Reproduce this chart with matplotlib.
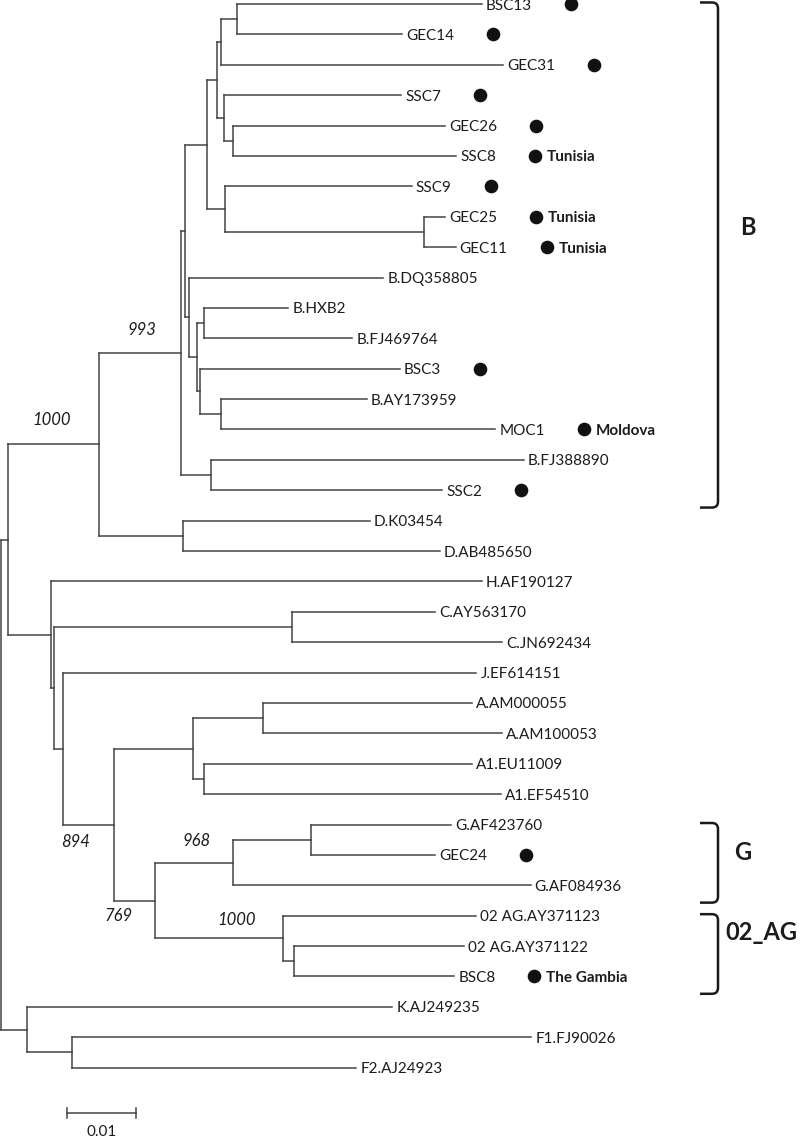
import numpy as np
import matplotlib.pyplot as plt
from matplotlib.collections import LineCollection
from matplotlib.path import Path
from matplotlib.patches import PathPatch

plt.rcParams['font.family'] = ['Lato', 'DejaVu Sans']

# ===============================================================
# tree data: node, parent, branch length (subst./site)
# children are listed from top to bottom
# ===============================================================
node_name = [
    'root', 'nX', 'nBD', 'nB', 'nB1', 'nB3', 'nB5', 'nB7', 'nB9',
    'BSC13', 'GEC14', 'GEC31', 'nB8', 'SSC7', 'nB10', 'GEC26', 'SSC8',
    'nB6', 'SSC9', 'nB11', 'GEC25', 'GEC11',
    'nB4', 'B.DQ358805', 'nB12', 'nB13', 'B.HXB2', 'B.FJ469764',
    'nB14', 'BSC3', 'nB15', 'B.AY173959', 'MOC1',
    'nB2', 'B.FJ388890', 'SSC2',
    'nD', 'D.K03454', 'D.AB485650',
    'nO', 'H.AF190127', 'nO1', 'nC', 'C.AY563170', 'C.JN692434',
    'nO2', 'J.EF614151', 'nO3', 'nA', 'nA1', 'A.AM000055', 'A.AM100053',
    'nA2', 'A1.EU11009', 'A1.EF54510',
    'nGAG', 'nG', 'nG1', 'G.AF423760', 'GEC24', 'G.AF084936',
    'nAG', '02 AG.AY371123', 'nAG1', '02 AG.AY371122', 'BSC8',
    'nKF', 'K.AJ249235', 'nF', 'F1.FJ90026', 'F2.AJ24923',
]
node_parent = [
    None, 'root', 'nX', 'nBD', 'nB', 'nB1', 'nB3', 'nB5', 'nB7',
    'nB9', 'nB9', 'nB7', 'nB5', 'nB8', 'nB8', 'nB10', 'nB10',
    'nB3', 'nB6', 'nB6', 'nB11', 'nB11',
    'nB1', 'nB4', 'nB4', 'nB12', 'nB13', 'nB13',
    'nB12', 'nB14', 'nB14', 'nB15', 'nB15',
    'nB', 'nB2', 'nB2',
    'nBD', 'nD', 'nD',
    'nX', 'nO', 'nO', 'nO1', 'nC', 'nC',
    'nO1', 'nO2', 'nO2', 'nO3', 'nA', 'nA1', 'nA1',
    'nA', 'nA2', 'nA2',
    'nO3', 'nGAG', 'nG', 'nG1', 'nG1', 'nG',
    'nGAG', 'nAG', 'nAG', 'nAG1', 'nAG1',
    'root', 'nKF', 'nKF', 'nF', 'nF',
]
branch_len = [
    0.0, 0.0010, 0.0131, 0.0118, 0.0006, 0.0032, 0.0014, 0.0006, 0.0023,
    0.0353, 0.0238, 0.0406, 0.0010, 0.0256, 0.0014, 0.0305, 0.0321,
    0.0026, 0.0269, 0.0287, 0.0030, 0.0045,
    0.0006, 0.0280, 0.0012, 0.0010, 0.0121, 0.0213,
    0.0004, 0.0288, 0.0030, 0.0210, 0.0395,
    0.0043, 0.0451, 0.0334,
    0.0121, 0.0269, 0.0370,
    0.0062, 0.0621, 0.0004, 0.0343, 0.0206, 0.0303,
    0.0014, 0.0595, 0.0073, 0.0114, 0.0101, 0.0300, 0.0344,
    0.0016, 0.0385, 0.0428,
    0.0059, 0.0112, 0.0112, 0.0203, 0.0179, 0.0429,
    0.0184, 0.0278, 0.0016, 0.0245, 0.0231,
    0.0037, 0.0527, 0.0066, 0.0661, 0.0409,
]

# study samples (dot) and origin of some of them
dot_leaves = ['BSC13', 'GEC14', 'GEC31', 'SSC7', 'GEC26', 'SSC8', 'SSC9',
              'GEC25', 'GEC11', 'BSC3', 'MOC1', 'SSC2', 'GEC24', 'BSC8']
country_leaves = ['SSC8', 'GEC25', 'GEC11', 'MOC1', 'BSC8']
country_names = ['Tunisia', 'Tunisia', 'Tunisia', 'Moldova', 'The Gambia']

# bootstrap values, written at the branch leading to the node
boot_nodes = ['nBD', 'nB', 'nO3', 'nG', 'nGAG', 'nAG']
boot_values = ['1000', '993', '894', '968', '769', '1000']
boot_dx = [-2, 2, -13, 3, -16, 18]     # px, from branch middle
boot_dy = [-24, -23, 17, -22, 15, -18]  # px, negative = above

# subtype brackets
clade_labels = ['B', 'G', '02_AG']
clade_first = ['BSC13', 'G.AF423760', '02 AG.AY371123']
clade_last = ['SSC2', 'G.AF084936', 'BSC8']
clade_label_dx = [22, 16, 7]    # px
clade_label_dy = [-28, -10, -21]  # px from bracket middle

scale_len = 0.01

# ===============================================================
# plot settings
# ===============================================================
W, H = 800, 1137
PX_X = 6940.0   # px per unit branch length
PX_Y = 30.39    # px per leaf row
X0, Y0 = 1, 4   # px position of root / first leaf
lc_tree = '#444444'
c_txt = '#1c1c1c'
fs = 11

# ===============================================================
# layout of the tree
# ===============================================================
xpos = {}
children = {n: [] for n in node_name}
for n, p, bl in zip(node_name, node_parent, branch_len):
    xpos[n] = bl if p is None else xpos[p] + bl
    if p is not None:
        children[p].append(n)

leaves = [n for n in node_name if not children[n]]
ypos = {n: i for i, n in enumerate(leaves)}
for n in reversed(node_name):
    if children[n]:
        ypos[n] = 0.5 * (ypos[children[n][0]] + ypos[children[n][-1]])

segs = []
for n, p in zip(node_name, node_parent):
    if p is not None:
        segs.append([(xpos[p], ypos[n]), (xpos[n], ypos[n])])
    if children[n]:
        segs.append([(xpos[n], ypos[children[n][0]]), (xpos[n], ypos[children[n][-1]])])

# ===============================================================
# figure
# ===============================================================
fig = plt.figure(figsize=(W / 100, H / 100), dpi=100)
ax = fig.add_axes([0, 0, 1, 1])
ax.set_xlim(-X0 / PX_X, (W - X0) / PX_X)
ax.set_ylim((H - Y0) / PX_Y, -Y0 / PX_Y)
ax.axis('off')

ax.add_collection(LineCollection(segs, colors=lc_tree, linewidths=1.1,
                                 capstyle='projecting'))

pt = 0.72  # points per px
labels = {}
for n in leaves:
    labels[n] = ax.annotate(n, (xpos[n], ypos[n]), xytext=(4 * pt, 0),
                            textcoords='offset points', ha='left',
                            va='center_baseline', fontsize=fs, color=c_txt)

# dots behind the sample names
fig.canvas.draw()
rend = fig.canvas.get_renderer()
inv = ax.transData.inverted()
for n in dot_leaves:
    bb = labels[n].get_window_extent(rend)
    xd = inv.transform((bb.x1 + 39, 0))[0]
    ax.plot(xd, ypos[n], 'o', color='#111111', markersize=8.8)
    if n in country_leaves:
        c = country_names[country_leaves.index(n)]
        ax.annotate(c, (xd, ypos[n]), xytext=(12 * pt, 0), textcoords='offset points',
                    ha='left', va='center_baseline', fontsize=fs,
                    fontweight='bold', color=c_txt)

# bootstrap values
for n, v, dx, dy in zip(boot_nodes, boot_values, boot_dx, boot_dy):
    p = node_parent[node_name.index(n)]
    xm = 0.5 * (xpos[p] + xpos[n])
    ax.annotate(v, (xm, ypos[n]), xytext=(dx * pt, -dy * pt), textcoords='offset points',
                ha='center', va='center', fontsize=12, style='italic', color=c_txt)

# brackets
xb = (718 - X0) / PX_X
hook = 18 / PX_X
rx, ry = 6 / PX_X, 6 / PX_Y
for lab, f, l, dx, dy in zip(clade_labels, clade_first, clade_last,
                             clade_label_dx, clade_label_dy):
    yt = ypos[f] - 0.05
    yb = ypos[l] + 0.57
    verts = [(xb - hook, yt), (xb - rx, yt), (xb, yt), (xb, yt + ry),
             (xb, yb - ry), (xb, yb), (xb - rx, yb), (xb - hook, yb)]
    codes = [Path.MOVETO, Path.LINETO, Path.CURVE3, Path.CURVE3,
             Path.LINETO, Path.CURVE3, Path.CURVE3, Path.LINETO]
    ax.add_patch(PathPatch(Path(verts, codes), fill=False, lw=1.8, edgecolor='#1a1a1a'))
    ax.annotate(lab, (xb, 0.5 * (yt + yb)), xytext=(dx * pt, -dy * pt),
                textcoords='offset points', ha='left', va='center',
                fontsize=17, fontweight='bold', color=c_txt)

# scale bar
xs = (67 - X0) / PX_X
ysb = (1113 - Y0) / PX_Y
tk = 5 / PX_Y
ax.plot([xs, xs + scale_len], [ysb, ysb], color=lc_tree, lw=1.1)
ax.plot([xs, xs], [ysb - tk, ysb + tk], color=lc_tree, lw=1.1)
ax.plot([xs + scale_len] * 2, [ysb - tk, ysb + tk], color=lc_tree, lw=1.1)
ax.annotate(f'{scale_len:g}', (xs + scale_len / 2, ysb), xytext=(0, -19 * pt),
            textcoords='offset points', ha='center', va='center',
            fontsize=fs, color=c_txt)

fig.savefig('out.png', dpi=100)
